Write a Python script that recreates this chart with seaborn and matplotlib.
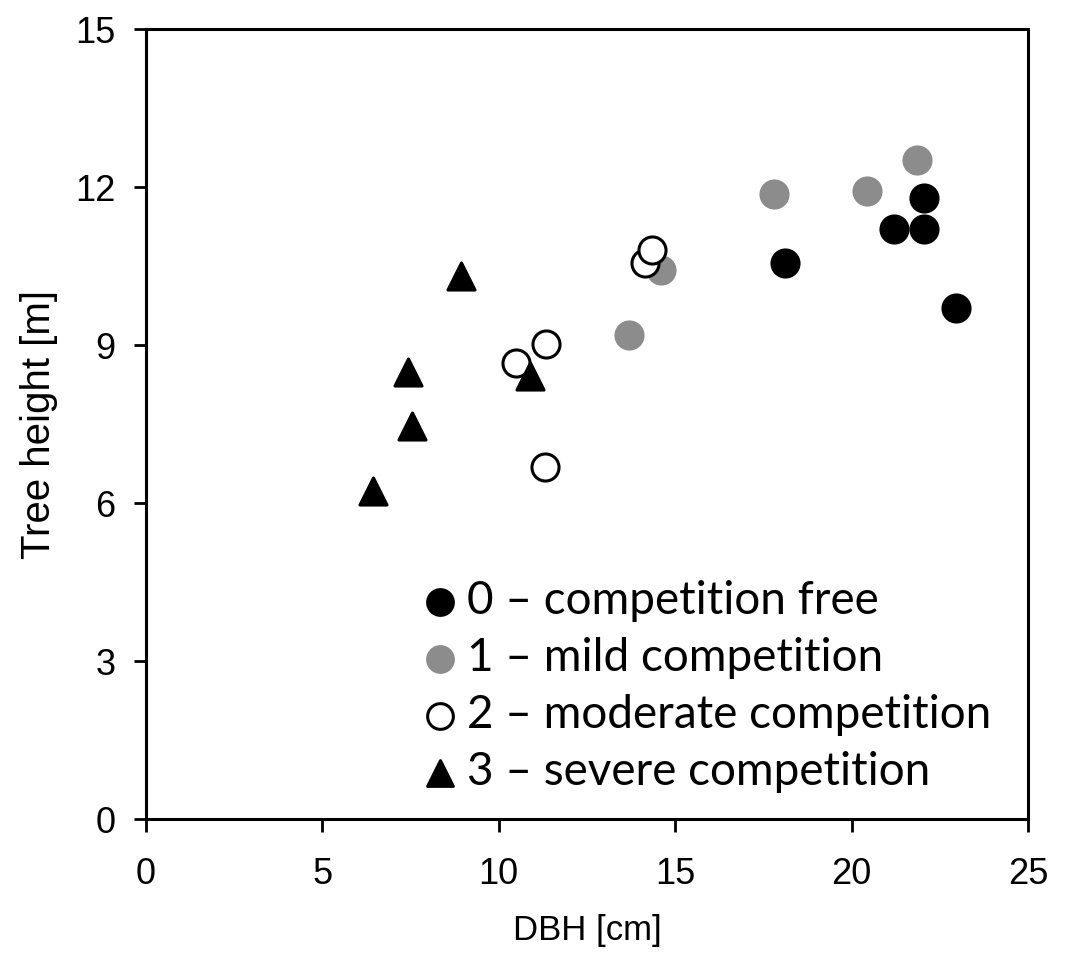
import matplotlib
matplotlib.use("Agg")
import matplotlib.pyplot as plt
import seaborn as sns
import pandas as pd

# Tree measurements per competition class
free_dbh = [18.1, 21.2, 22.05, 22.05, 22.95]
free_h = [10.56, 11.21, 11.21, 11.80, 9.71]

mild_dbh = [13.7, 14.6, 17.8, 20.45, 21.85]
mild_h = [9.19, 10.42, 11.86, 11.92, 12.51]

moderate_dbh = [10.5, 11.35, 11.3, 14.15, 14.35]
moderate_h = [8.66, 9.03, 6.69, 10.56, 10.80]

severe_dbh = [6.43, 7.42, 7.53, 8.93, 10.89]
severe_h = [6.23, 8.48, 7.47, 10.32, 8.42]

labels = ["0 \u2013 competition free", "1 \u2013 mild competition",
          "2 \u2013 moderate competition", "3 \u2013 severe competition"]

x_ticks = [0, 5, 10, 15, 20, 25]
y_ticks = [0, 3, 6, 9, 12, 15]

sns.set_theme(style="white")
plt.rcParams["font.family"] = ["Liberation Sans", "DejaVu Sans"]
plt.rcParams.update({"text.color": "black", "axes.labelcolor": "black",
                     "xtick.color": "black", "ytick.color": "black"})

frames = []
for lab, xs, ys in zip(labels, [free_dbh, mild_dbh, moderate_dbh, severe_dbh],
                       [free_h, mild_h, moderate_h, severe_h]):
    frames.append(pd.DataFrame({"DBH": xs, "Height": ys, "Class": lab}))
df = pd.concat(frames, ignore_index=True)

styles = {
    labels[0]: dict(marker="o", color="black", edgecolor="black"),
    labels[1]: dict(marker="o", color="#8c8c8c", edgecolor="#8c8c8c"),
    labels[2]: dict(marker="o", color="white", edgecolor="black"),
    labels[3]: dict(marker="^", color="black", edgecolor="black"),
}

fig = plt.figure(figsize=(10.76, 9.71), dpi=100)
ax = fig.add_axes([0.1357, 0.1565, 0.8197, 0.8135])

for lab in labels:
    st = styles[lab]
    sns.scatterplot(data=df[df["Class"] == lab], x="DBH", y="Height", ax=ax,
                    marker=st["marker"], color=st["color"], edgecolor=st["edgecolor"],
                    linewidth=2.2, s=380, label=lab, zorder=3)

ax.set_xlim(0, 25)
ax.set_ylim(0, 15)
ax.set_xticks(x_ticks)
ax.set_yticks(y_ticks)
ax.tick_params(axis="both", which="major", direction="out", length=9, width=2,
               color="black", labelcolor="black", labelsize=26,
               bottom=True, left=True)
ax.tick_params(axis="x", pad=18)
ax.tick_params(axis="y", pad=13)
for sp in ax.spines.values():
    sp.set_linewidth(2.2)
    sp.set_color("black")

ax.set_xlabel("DBH [cm]", fontsize=25, labelpad=16)
ax.set_ylabel("Tree height [m]", fontsize=29, labelpad=12)

leg = ax.legend(loc="lower right", bbox_to_anchor=(0.995, -0.008), frameon=False,
                prop={"family": "Lato", "size": 33}, markerscale=0.95,
                handletextpad=0.1, labelspacing=0.33, handlelength=1.0,
                borderaxespad=0.3)
for t in leg.get_texts():
    t.set_color("black")

fig.savefig("out.png", dpi=100)
